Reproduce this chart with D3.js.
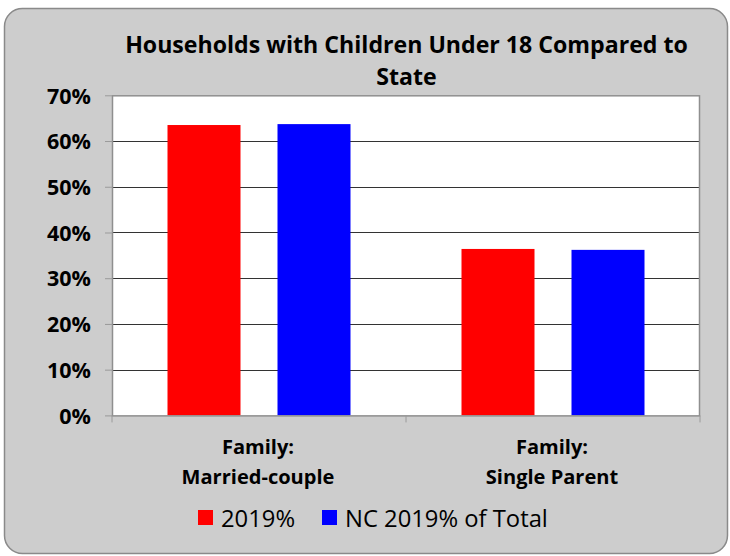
<!DOCTYPE html>
<html><head><meta charset="utf-8">
<script src="https://cdn.jsdelivr.net/npm/d3@7"></script>
<style>html,body{margin:0;padding:0;background:#fff}svg{display:block}</style>
</head><body>
<script>
const categories = [["Family:", "Married-couple"], ["Family:", "Single Parent"]];
const seriesNames = ["2019%", "NC 2019% of Total"];
const series2019 = [63.5, 36.4];
const seriesNC = [63.7, 36.2];
const yTicks = [0, 10, 20, 30, 40, 50, 60, 70];
const colors = ["#ff0000", "#0000ff"];
const titleLines = ["Households with Children Under 18 Compared to", "State"];

(function () {
const W = 730, H = 556;
const font = "'Open Sans', Lato, sans-serif";
const svg = d3.select("body").append("svg").attr("width", W).attr("height", H);

// scale font size of a text selection so a reference string hits a target width
function fitSize(sample, weight, target, base) {
  const t = svg.append("text").attr("font-family", font).attr("font-weight", weight)
    .attr("font-size", base).text(sample);
  const w = t.node().getComputedTextLength();
  t.remove();
  return base * target / w;
}
const titleSize = fitSize(titleLines[0], "bold", 563, 20);
const tickSize = fitSize("70%", "bold", 44, 17);
const catSize = fitSize("Married-couple", "bold", 153, 17);
const legSize = fitSize("NC 2019% of Total", "normal", 203, 20);

svg.append("rect").attr("x", 4.5).attr("y", 8.5).attr("width", 723).attr("height", 545)
  .attr("rx", 18).attr("fill", "#cdcdcd").attr("stroke", "#8a8a8a").attr("stroke-width", 1.5);

const pLeft = 112, pRight = 700, pTop = 95.3, pBottom = 415.4;
const x0 = d3.scaleBand().domain(d3.range(categories.length)).range([pLeft, pRight]).paddingInner(0).paddingOuter(0);
const y = d3.scaleLinear().domain([0, 70]).range([pBottom, pTop]);

svg.append("rect").attr("x", pLeft).attr("y", pTop).attr("width", pRight - pLeft).attr("height", pBottom - pTop)
  .attr("fill", "#fff");

// gridlines
svg.append("g").selectAll("line").data(yTicks.filter(t => t > 0 && t < 70)).join("line")
  .attr("x1", pLeft).attr("x2", pRight).attr("y1", d => Math.round(y(d)) + 0.5).attr("y2", d => Math.round(y(d)) + 0.5)
  .attr("stroke", "#333").attr("stroke-width", 1);

// bars
const data = categories.map((c, i) => [series2019[i], seriesNC[i]]);
const bw = 73, gap = 37;
const x1 = d3.scaleBand().domain([0, 1]).range([0, 2 * bw + gap]).paddingInner(gap / (bw + gap)).paddingOuter(0);
const groups = svg.append("g").selectAll("g").data(data).join("g")
  .attr("transform", (d, i) => `translate(${x0(i) + (x0.bandwidth() - (2 * bw + gap)) / 2},0)`);
groups.selectAll("rect").data(d => d).join("rect")
  .attr("x", (d, j) => x1(j)).attr("width", x1.bandwidth())
  .attr("y", d => y(d)).attr("height", d => pBottom - y(d))
  .attr("fill", (d, j) => colors[j]);

// plot border
svg.append("rect").attr("x", pLeft + 0.5).attr("y", pTop + 0.5).attr("width", pRight - pLeft - 1).attr("height", pBottom - pTop)
  .attr("fill", "none").attr("stroke", "#8f8f8f").attr("stroke-width", 1.5);

// y axis
const yAxis = d3.axisLeft(y).tickValues(yTicks).tickFormat(d => d + "%").tickSize(7).tickPadding(14);
const ya = svg.append("g").attr("transform", `translate(${pLeft},0)`).call(yAxis);
ya.select(".domain").remove();
ya.selectAll(".tick line").attr("stroke", "#9a9a9a");
ya.selectAll(".tick text").attr("font-family", font).attr("font-weight", "bold").attr("font-size", tickSize)
  .attr("fill", "#000").attr("dy", "0.36em");

// x axis ticks at band boundaries
const xb = d3.range(categories.length + 1).map(i => pLeft + i * x0.step());
svg.append("g").selectAll("line").data(xb).join("line")
  .attr("x1", d => d).attr("x2", d => d).attr("y1", pBottom).attr("y2", pBottom + 7)
  .attr("stroke", "#9a9a9a");

// category labels
const cl = svg.append("g").selectAll("text").data(categories).join("text")
  .attr("x", (d, i) => x0(i) + x0.bandwidth() / 2 - 1).attr("text-anchor", "middle")
  .attr("font-family", font).attr("font-weight", "bold").attr("font-size", catSize).attr("fill", "#000");
cl.selectAll("tspan").data(d => d).join("tspan")
  .attr("x", function () { return this.parentNode.getAttribute("x"); })
  .attr("y", (d, k) => 454 + k * 29.5).text(d => d);

// title
svg.append("g").selectAll("text").data(titleLines).join("text")
  .attr("x", 406.5).attr("y", (d, i) => 52.5 + i * 32.5).attr("text-anchor", "middle")
  .attr("font-family", font).attr("font-weight", "bold").attr("font-size", titleSize).attr("fill", "#000")
  .text(d => d);

// legend
const legX = [198, 322];
const lg = svg.append("g").selectAll("g").data(seriesNames).join("g")
  .attr("transform", (d, i) => `translate(${legX[i]},510)`);
lg.append("rect").attr("width", 15).attr("height", 15).attr("fill", (d, i) => colors[i]);
lg.append("text").attr("x", 23).attr("y", 16.5).attr("font-family", font).attr("font-size", legSize)
  .attr("fill", "#000").text(d => d);
})();
</script>
</body></html>
